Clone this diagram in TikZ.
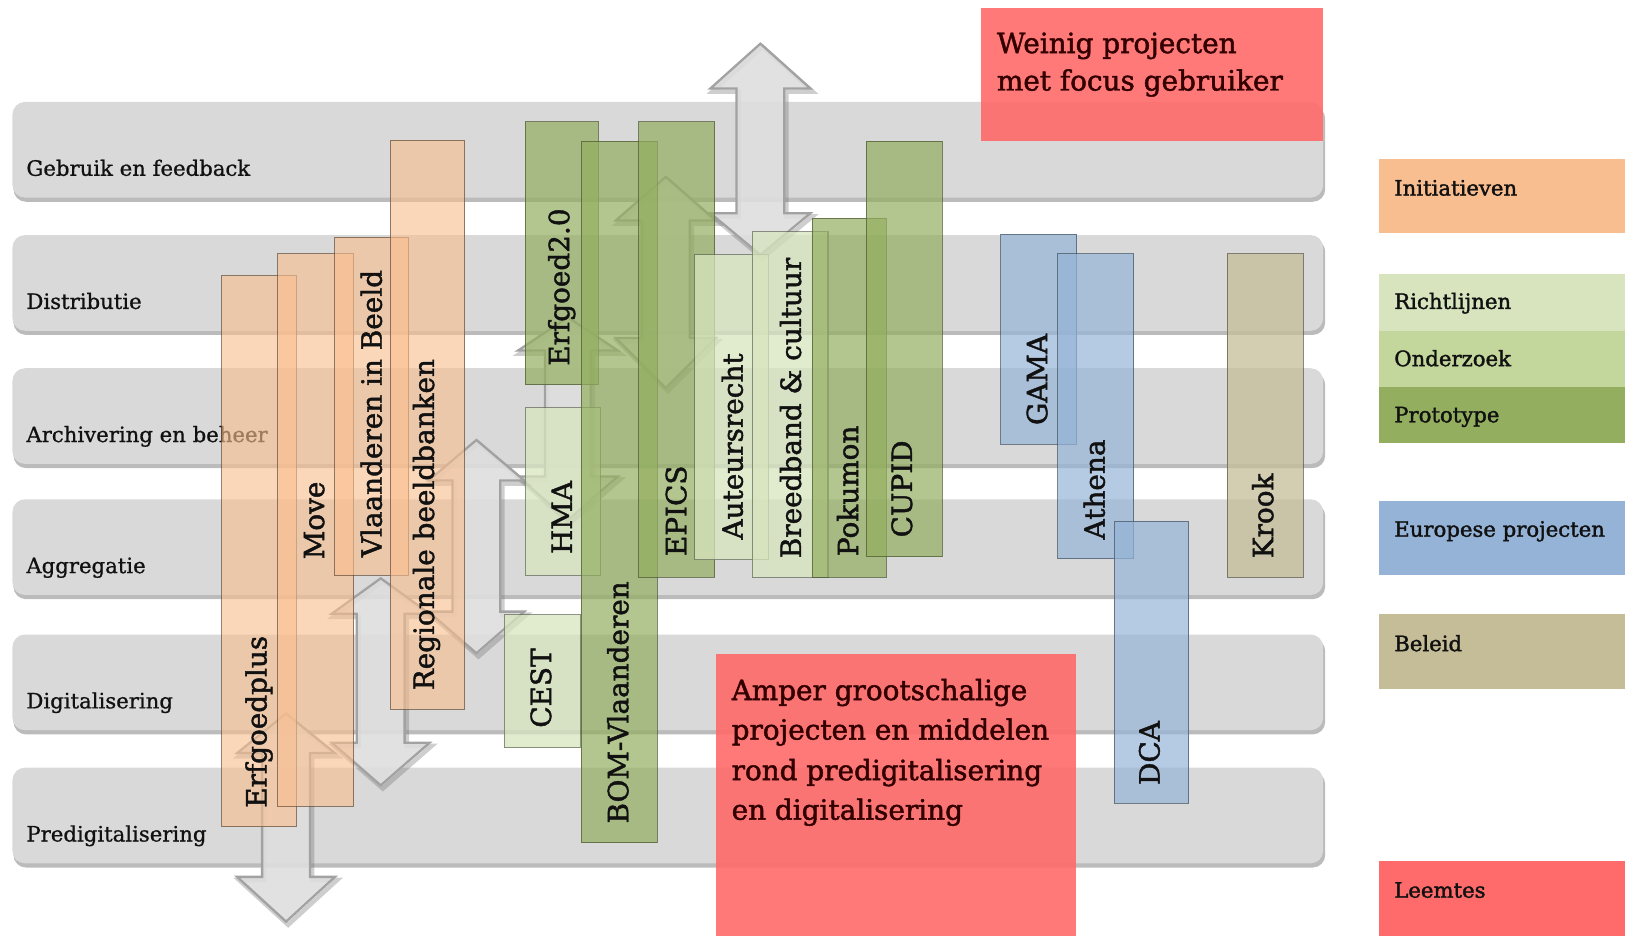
\documentclass[tikz,border=0pt]{standalone}
\usepackage{fontspec}
\setmainfont{DejaVu Serif}
\newfontfamily\heavyserif[FakeBold=1.6]{DejaVu Serif}
\newfontfamily\midserif[FakeBold=0.9]{DejaVu Serif}
\definecolor{bandC}{HTML}{D9D9D9}
\definecolor{bandShC}{HTML}{8E8E8E}
\definecolor{arrC}{HTML}{DEDEDE}
\definecolor{arrLineC}{HTML}{A2A2A2}
\definecolor{iniC}{HTML}{F9BE8F}
\definecolor{richtC}{HTML}{D7E4BD}
\definecolor{onderC}{HTML}{C3D69B}
\definecolor{protoC}{HTML}{93AE5F}
\definecolor{euC}{HTML}{95B3D7}
\definecolor{beleidC}{HTML}{C4BD97}
\definecolor{leemC}{HTML}{FF6A6A}
\definecolor{txtC}{HTML}{111111}
\tikzset{
  band/.style={fill=bandC, rounded corners=6pt},
  bandshadow/.style={fill=bandShC, fill opacity=.6, rounded corners=6pt},
  garrow/.style={fill=arrC, fill opacity=.9, draw=arrLineC, line width=1.1pt, line join=miter},
  ashadow/.style={draw=black!55, draw opacity=.35, line width=2.2pt, line join=miter},
  boxbase/.style={line width=.5pt, draw opacity=.7},
  ini/.style={boxbase, fill=iniC, fill opacity=.62, draw=black!60!iniC},
  richt/.style={boxbase, fill=richtC, fill opacity=.75, draw=black!55!richtC},
  onder/.style={boxbase, fill=onderC, fill opacity=.72, draw=black!55!onderC},
  proto/.style={boxbase, fill=protoC, fill opacity=.7, draw=black!50!protoC},
  eu/.style={boxbase, fill=euC, fill opacity=.7, draw=black!55!euC},
  beleid/.style={boxbase, fill=beleidC, fill opacity=.75, draw=black!55!beleidC},
  gap/.style={fill=leemC, fill opacity=.9},
  lbl/.style={font=\heavyserif\fontsize{13.4}{16}\selectfont, text=txtC, inner sep=0pt, rotate=90, anchor=west},
  bandlbl/.style={font=\midserif\fontsize{10.2}{12}\selectfont, text=txtC, inner sep=0pt, anchor=base west},
  gaptxt/.style={font=\heavyserif\fontsize{13.4}{16}\selectfont, text=black!80!red, inner sep=0pt, anchor=base west},
  legtxt/.style={font=\heavyserif\fontsize{10.2}{12}\selectfont, text=txtC, inner sep=0pt, anchor=base west},
}
\newcommand\darr[8]{% name cx tip1 base1 base2 tip2 halfhead halfshaft
  \begin{scope}[shift={(2,3)}]
  \path[ashadow] (#2,#3) -- ({#2+#7},#4) -- ({#2+#8},#4) -- ({#2+#8},#5) -- ({#2+#7},#5) -- (#2,#6) -- ({#2-#7},#5) -- ({#2-#8},#5) -- ({#2-#8},#4) -- ({#2-#7},#4) -- cycle;
  \end{scope}
  \path[garrow] (#2,#3) -- ({#2+#7},#4) -- ({#2+#8},#4) -- ({#2+#8},#5) -- ({#2+#7},#5) -- (#2,#6) -- ({#2-#7},#5) -- ({#2-#8},#5) -- ({#2-#8},#4) -- ({#2-#7},#4) -- cycle;
  \coordinate (#1) at (#2,{(#3+#6)/2});
}
\newcommand\prj[6]{% name style x1 y1 x2 y2
  \path[#2] (#3,#4) rectangle (#5,#6);
  \coordinate (#1) at ({(#3+#5)/2},#6);
}
\begin{document}
\begin{tikzpicture}[x=0.5pt,y=-0.5pt]
\useasboundingbox (0,0) rectangle (1568,900);
% layers
\foreach \t/\lab [count=\i] in {98/Gebruik en feedback, 226/Distributie, 354/Archivering en beheer, 480/Aggregatie, 610/Digitalisering, 738/Predigitalisering} {
  \path[bandshadow] (13,{\t+4}) rectangle (1274,{\t+96});
  \path[band] (12,\t) rectangle (1272,{\t+92});
  \node[bandlbl] (band\i) at (25,{\t+71}) {\lab};
}
% grey double arrows
\darr{arrA}{731}{42}{85}{205}{245}{48}{23}
\darr{arrB}{640}{170}{212}{325}{373}{48}{23}
\darr{arrC}{546}{305}{337}{458}{500}{48}{22}
\darr{arrD}{458}{423}{462}{588}{628}{46}{23}
\darr{arrE}{366}{556}{590}{714}{755}{47}{23}
\darr{arrF}{275}{686}{724}{843}{886}{47}{23}
% initiatieven
\prj{erfgoedplus}{ini}{213}{265}{285}{795}
\prj{move}{ini}{267}{244}{340}{775}
\prj{vib}{ini}{322}{228}{393}{553}
\prj{regio}{ini}{375}{135}{447}{682}
% richtlijnen / onderzoek / prototype
\prj{erfgoed2}{proto}{505}{117}{575}{370}
\prj{hma}{richt}{505}{392}{577}{553}
\prj{cest}{richt}{485}{591}{558}{719}
\prj{bom}{proto}{559}{136}{632}{810}
\prj{epics}{proto}{614}{117}{687}{555}
\prj{auteur}{richt}{668}{245}{739}{538}
\prj{breed}{richt}{723}{223}{796}{555}
\prj{poku}{proto}{781}{210}{852}{555}
\prj{cupid}{proto}{833}{136}{906}{535}
% europese projecten / beleid
\prj{gama}{eu}{962}{225}{1035}{427}
\prj{athena}{eu}{1017}{244}{1090}{537}
\prj{dca}{eu}{1071}{501}{1143}{772}
\prj{krook}{beleid}{1180}{244}{1253}{555}
% labels
\node[lbl] (l-erfgoedplus) at (249,777) {Erfgoedplus};
\node[lbl] (l-move) at (302,538) {Move};
\node[lbl] (l-vib) at (357,536) {Vlaanderen in Beeld};
\node[lbl] (l-regio) at (410,664) {Regionale beeldbanken};
\node[lbl] (l-erfgoed2) at (540,352) {Erfgoed2.0};
\node[lbl] (l-hma) at (540,533) {HMA};
\node[lbl] (l-cest) at (520,700) {CEST};
\node[lbl] (l-bom) at (594,792) {BOM-Vlaanderen};
\node[lbl] (l-epics) at (650,535) {EPICS};
\node[lbl] (l-auteur) at (704,519) {Auteursrecht};
\node[lbl] (l-breed) at (760,537) {Breedband \& cultuur};
\node[lbl] (l-poku) at (815,535) {Pokumon};
\node[lbl] (l-cupid) at (867,517) {CUPID};
\node[lbl] (l-gama) at (997,409) {GAMA};
\node[lbl] (l-athena) at (1052,519) {Athena};
\node[lbl] (l-dca) at (1105,755) {DCA};
\node[lbl] (l-krook) at (1214,537) {Krook};
% gaps (leemtes)
\prj{weinig}{gap}{943}{8}{1272}{136}
\node[gaptxt] (w1) at (958,51) {Weinig projecten};
\node[gaptxt] (w2) at (958,87) {met focus gebruiker};
\prj{amper}{gap}{688}{629}{1034}{900}
\node[gaptxt] (a1) at (703,673) {Amper grootschalige};
\node[gaptxt] (a2) at (703,711) {projecten en middelen};
\node[gaptxt] (a3) at (703,750) {rond predigitalisering};
\node[gaptxt] (a4) at (703,788) {en digitalisering};
% legend
\path[fill=iniC] (1326,153) rectangle (1562,224);
\node[legtxt] (g1) at (1340,188) {Initiatieven};
\path[fill=richtC] (1326,263) rectangle (1562,318);
\node[legtxt] (g2) at (1340,297) {Richtlijnen};
\path[fill=onderC] (1326,318) rectangle (1562,372);
\node[legtxt] (g3) at (1340,352) {Onderzoek};
\path[fill=protoC] (1326,372) rectangle (1562,426);
\node[legtxt] (g4) at (1340,406) {Prototype};
\path[fill=euC] (1326,482) rectangle (1562,553);
\node[legtxt] (g5) at (1340,516) {Europese projecten};
\path[fill=beleidC] (1326,590) rectangle (1562,662);
\node[legtxt] (g6) at (1340,626) {Beleid};
\path[fill=leemC] (1326,828) rectangle (1562,900);
\node[legtxt] (g7) at (1340,863) {Leemtes};
\end{tikzpicture}
\end{document}
